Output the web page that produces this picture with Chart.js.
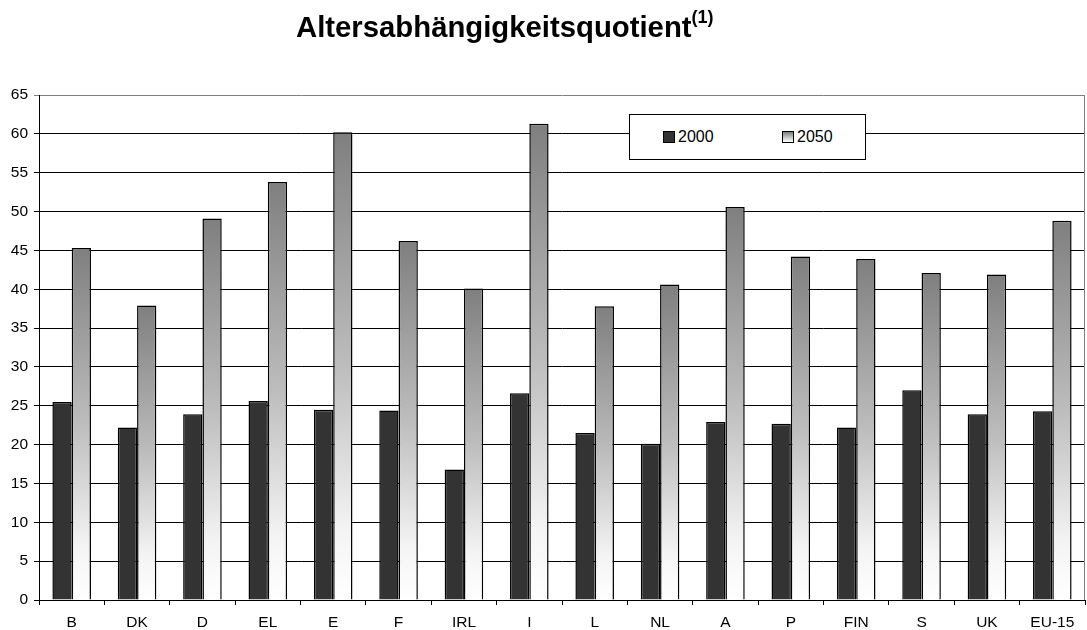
<!DOCTYPE html>
<html>
<head>
<meta charset="utf-8">
<title>Altersabhängigkeitsquotient</title>
<script src="https://cdn.jsdelivr.net/npm/chart.js@4.4.0/dist/chart.umd.min.js"></script>
<style>
  body { margin: 0; background: #fff; }
  #wrap { position: relative; width: 1087px; height: 630px; font-family: "Liberation Sans", Arial, sans-serif; color: #000; }
  #chart { position: absolute; left: 0; top: 0; }
  #title { position: absolute; left: 296px; top: 13px; font-size: 29.3px; line-height: 28px; font-weight: bold; white-space: nowrap; }
  #title sup { font-size: 18px; position: relative; top: -5px; vertical-align: top; line-height: 18px; }
  #legend { position: absolute; left: 629px; top: 114px; width: 235px; height: 44px; border: 1px solid #000; background: #fff; }
  .item { position: absolute; top: 14px; font-size: 16px; line-height: 16px; }
  .swatch { display: inline-block; width: 10px; height: 10px; border: 1px solid #000; vertical-align: -1px; margin-right: 3px; }
</style>
</head>
<body>
<div id="wrap">
  <canvas id="chart" width="1087" height="630"></canvas>
  <div id="title">Altersabhängigkeitsquotient<sup>(1)</sup></div>
  <div id="legend"></div>
</div>
<script>
const categories = ["B", "DK", "D", "EL", "E", "F", "IRL", "I", "L", "NL", "A", "P", "FIN", "S", "UK", "EU-15"];
const values2000 = [25.5, 22.2, 23.9, 25.6, 24.5, 24.4, 16.8, 26.6, 21.5, 20.1, 22.9, 22.7, 22.2, 27.0, 23.9, 24.3];
const values2050 = [45.3, 37.9, 49.1, 53.8, 60.2, 46.2, 40.1, 61.3, 37.8, 40.6, 50.6, 44.2, 43.9, 42.1, 41.9, 48.8];
const seriesNames = ["2000", "2050"];
const yMin = 0;
const yMax = 65;
const yStep = 5;

const FONT = "'Liberation Sans', Arial, sans-serif";

// 2050 bars fade from grey at the top to white at the axis
function fadeFill(ctx) {
  const chart = ctx.chart;
  const y = chart.scales.y;
  if (!y || ctx.type !== "data" || !ctx.parsed) return "#b0b0b0";
  const top = y.getPixelForValue(ctx.parsed.y);
  const bottom = y.getPixelForValue(0);
  if (!isFinite(top) || !isFinite(bottom) || top === bottom) return "#b0b0b0";
  const g = chart.ctx.createLinearGradient(0, top, 0, bottom);
  g.addColorStop(0, "#7f7f7f");
  g.addColorStop(0.5, "#bdbdbd");
  g.addColorStop(0.85, "#f4f4f4");
  g.addColorStop(1, "#ffffff");
  return g;
}

const frame = {
  id: "frame",
  afterDraw(chart) {
    const a = chart.chartArea;
    const c = chart.ctx;
    c.save();
    c.strokeStyle = "#808080";
    c.lineWidth = 1;
    c.beginPath();
    c.moveTo(a.right - 0.5, a.top);
    c.lineTo(a.right - 0.5, a.bottom);
    c.stroke();
    c.restore();
  }
};

function buildLegend() {
  const box = document.getElementById("legend");
  const fills = ["#333333", "linear-gradient(#7f7f7f, #ffffff)"];
  const lefts = [33, 152];
  seriesNames.forEach((name, i) => {
    const item = document.createElement("div");
    item.className = "item";
    item.style.left = lefts[i] + "px";
    item.innerHTML = `<span class="swatch" style="background:${fills[i]}"></span>${name}`;
    box.appendChild(item);
  });
}

new Chart(document.getElementById("chart"), {
  type: "bar",
  data: {
    labels: categories,
    datasets: [
      {
        label: seriesNames[0],
        data: values2000,
        backgroundColor: "#333333",
        borderColor: "#000",
        borderWidth: 1.5,
        categoryPercentage: 0.59,
        barPercentage: 1.0
      },
      {
        label: seriesNames[1],
        data: values2050,
        backgroundColor: fadeFill,
        borderColor: "#000",
        borderWidth: 1.5,
        categoryPercentage: 0.59,
        barPercentage: 1.0
      }
    ]
  },
  options: {
    responsive: false,
    devicePixelRatio: 1,
    animation: false,
    layout: { padding: { top: 95, right: 2, left: 0, bottom: 0 } },
    plugins: {
      legend: { display: false },
      tooltip: { enabled: false },
      title: { display: false }
    },
    scales: {
      x: {
        grid: { drawOnChartArea: false, drawTicks: true, tickLength: 5, color: "#000", offset: true },
        border: { color: "#000", width: 1 },
        ticks: { color: "#000", font: { family: FONT, size: 15.5 }, padding: 8 },
        afterFit: s => { s.height = 30; }
      },
      y: {
        min: yMin,
        max: yMax,
        ticks: { stepSize: yStep, color: "#000", font: { family: FONT, size: 15.5 }, padding: 6 },
        grid: {
          tickLength: 5,
          color: ctx => (ctx.tick && ctx.tick.value === yMax ? "#808080" : "#000")
        },
        border: { color: "#000", width: 1 },
        afterFit: s => { s.width = 39; }
      }
    }
  },
  plugins: [frame]
});

buildLegend();
</script>
</body>
</html>
